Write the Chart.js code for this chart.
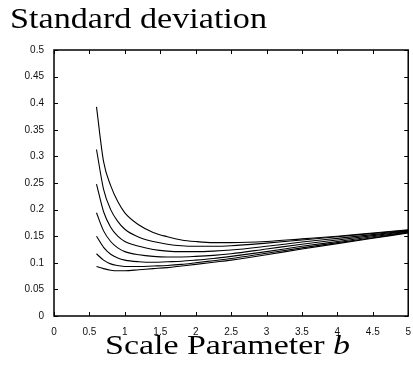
<!DOCTYPE html>
<html>
<head>
<meta charset="utf-8">
<script src="https://cdn.jsdelivr.net/npm/chart.js@4"></script>
<style>
  html, body { margin: 0; padding: 0; background: #fff; }
  #wrap { width: 413px; height: 371px; position: relative; }
</style>
</head>
<body>
<div id="wrap"><canvas id="sdChart"></canvas></div>
<script>
// scale parameter b (x axis)
const bValues = [0.6, 0.7, 0.8, 0.9, 1.0, 1.2, 1.4, 1.6, 1.8, 2.0, 2.25, 2.5, 3.0, 3.5, 4.0, 4.5, 5.0];

// standard deviation curves, top to bottom
const sd1 = [0.393, 0.290, 0.245, 0.215, 0.194, 0.171, 0.157, 0.149, 0.143, 0.140, 0.138, 0.138, 0.140, 0.145, 0.150, 0.156, 0.162];
const sd2 = [0.313, 0.238, 0.200, 0.178, 0.163, 0.148, 0.140, 0.135, 0.132, 0.131, 0.131, 0.132, 0.137, 0.143, 0.149, 0.155, 0.161];
const sd3 = [0.248, 0.196, 0.167, 0.150, 0.140, 0.131, 0.125, 0.122, 0.121, 0.121, 0.122, 0.124, 0.131, 0.139, 0.146, 0.153, 0.160];
const sd4 = [0.194, 0.160, 0.140, 0.128, 0.121, 0.115, 0.112, 0.111, 0.111, 0.112, 0.114, 0.117, 0.126, 0.135, 0.143, 0.151, 0.159];
const sd5 = [0.150, 0.129, 0.116, 0.109, 0.105, 0.102, 0.101, 0.102, 0.103, 0.105, 0.108, 0.112, 0.121, 0.131, 0.140, 0.149, 0.158];
const sd6 = [0.117, 0.105, 0.098, 0.095, 0.093, 0.093, 0.094, 0.095, 0.097, 0.100, 0.104, 0.108, 0.118, 0.128, 0.138, 0.147, 0.157];
const sd7 = [0.093, 0.089, 0.086, 0.085, 0.085, 0.087, 0.089, 0.091, 0.094, 0.097, 0.101, 0.105, 0.115, 0.126, 0.136, 0.146, 0.156];

const allCurves = [sd1, sd2, sd3, sd4, sd5, sd6, sd7];

const xTicks = [0, 0.5, 1, 1.5, 2, 2.5, 3, 3.5, 4, 4.5, 5];
const yTicks = [0, 0.05, 0.1, 0.15, 0.2, 0.25, 0.3, 0.35, 0.4, 0.45, 0.5];

const titleText = 'Standard deviation';
const xLabelText = 'Scale Parameter ';
const xLabelVar = 'b';

const datasets = allCurves.map(function (curve) {
    return {
        data: curve.map(function (v, i) { return { x: bValues[i], y: v }; }),
        borderColor: '#000',
        borderWidth: 1.1,
        pointRadius: 0,
        fill: false,
        cubicInterpolationMode: 'monotone'
    };
});

// frame with inward ticks, like the original plot
const framePlugin = {
    id: 'frame',
    afterDatasetsDraw(chart) {
        const ctx = chart.ctx;
        const a = chart.chartArea;
        const xs = chart.scales.x;
        const ys = chart.scales.y;
        const len = 4;
        ctx.save();
        ctx.strokeStyle = '#000';
        ctx.lineWidth = 1;
        ctx.beginPath();
        xTicks.forEach(function (t) {
            const px = Math.round(xs.getPixelForValue(t)) + 0.5;
            ctx.moveTo(px, a.bottom); ctx.lineTo(px, a.bottom - len);
            ctx.moveTo(px, a.top); ctx.lineTo(px, a.top + len);
        });
        yTicks.forEach(function (t) {
            const py = Math.round(ys.getPixelForValue(t)) + 0.5;
            ctx.moveTo(a.left, py); ctx.lineTo(a.left + len, py);
            ctx.moveTo(a.right, py); ctx.lineTo(a.right - len, py);
        });
        ctx.stroke();
        ctx.lineWidth = 1.5;
        ctx.strokeRect(a.left, a.top, a.right - a.left, a.bottom - a.top);
        ctx.restore();
    }
};

// serif titles, stretched to the width seen in the original
const labelPlugin = {
    id: 'labels',
    afterDraw(chart) {
        const ctx = chart.ctx;
        ctx.save();
        ctx.fillStyle = '#000';
        ctx.textBaseline = 'alphabetic';

        ctx.font = '29px "Liberation Serif", serif';
        let w = ctx.measureText(titleText).width;
        ctx.save();
        ctx.translate(10, 28);
        ctx.scale(257 / w, 1);
        ctx.fillText(titleText, 0, 0);
        ctx.restore();

        ctx.font = '28px "Liberation Serif", serif';
        const w1 = ctx.measureText(xLabelText).width;
        ctx.font = 'italic 28px "Liberation Serif", serif';
        const w2 = ctx.measureText(xLabelVar).width;
        const k = 245 / (w1 + w2);
        ctx.save();
        ctx.translate(105, 354);
        ctx.scale(k, 1);
        ctx.font = '28px "Liberation Serif", serif';
        ctx.fillText(xLabelText, 0, 0);
        ctx.font = 'italic 28px "Liberation Serif", serif';
        ctx.fillText(xLabelVar, w1, 0);
        ctx.restore();
        ctx.restore();
    }
};

const ctx = document.getElementById('sdChart').getContext('2d');

new Chart(ctx, {
    type: 'line',
    data: { datasets: datasets },
    options: {
        responsive: true,
        maintainAspectRatio: false,
        animation: false,
        layout: { padding: { top: 50, right: 4, left: 0, bottom: 0 } },
        plugins: {
            legend: { display: false },
            tooltip: { enabled: false }
        },
        scales: {
            x: {
                type: 'linear',
                min: 0,
                max: 5,
                afterFit: function (s) { s.height = 55; },
                afterBuildTicks: function (s) { s.ticks = xTicks.map(function (v) { return { value: v }; }); },
                grid: { display: false },
                border: { display: false },
                ticks: {
                    padding: 2,
                    color: '#111',
                    font: { family: '"Liberation Sans", Arial, sans-serif', size: 10 },
                    maxRotation: 0,
                    callback: function (v) { return String(v); }
                }
            },
            y: {
                min: 0,
                max: 0.5,
                afterFit: function (s) { s.width = 54; },
                afterBuildTicks: function (s) { s.ticks = yTicks.map(function (v) { return { value: v }; }); },
                grid: { display: false },
                border: { display: false },
                ticks: {
                    padding: 2,
                    color: '#111',
                    font: { family: '"Liberation Sans", Arial, sans-serif', size: 10 },
                    callback: function (v) { return String(Math.round(v * 100) / 100); }
                }
            }
        }
    },
    plugins: [framePlugin, labelPlugin]
});
</script>
</body>
</html>
